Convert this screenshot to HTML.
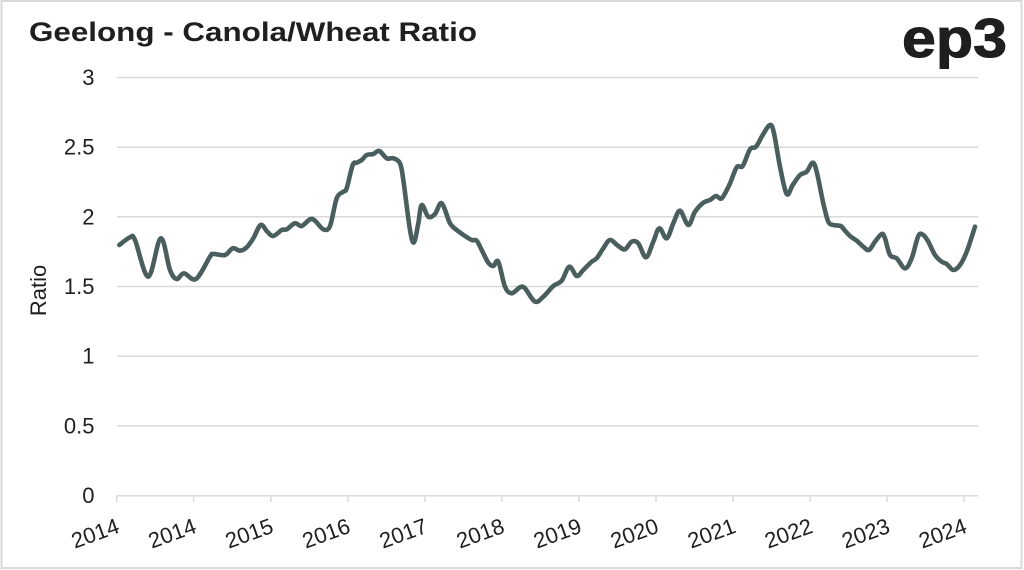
<!DOCTYPE html>
<html>
<head>
<meta charset="utf-8">
<style>
  html,body{margin:0;padding:0;background:#fff;}
  body{width:1024px;height:570px;overflow:hidden;}
  svg{display:block;}
  text{font-family:"Liberation Sans", Arial, sans-serif;fill:#1f1f1f;}
</style>
</head>
<body>
<svg width="1024" height="570" viewBox="0 0 1024 570" xmlns="http://www.w3.org/2000/svg">
  <rect x="0" y="0" width="1024" height="570" fill="#fff"/>
  <rect x="1.5" y="1" width="1020" height="567" fill="none" stroke="#d9d9d9" stroke-width="2"/>

  <!-- Title -->
  <text x="29" y="41" font-size="27" font-weight="bold" textLength="448" lengthAdjust="spacingAndGlyphs" fill="#111">Geelong - Canola/Wheat Ratio</text>

  <!-- Logo -->
  <text x="902" y="57" font-size="55" font-weight="bold" textLength="105" lengthAdjust="spacingAndGlyphs" fill="#1e1e1e" stroke="#1e1e1e" stroke-width="1">ep3</text>

  <!-- Gridlines -->
  <g stroke="#d9d9d9" stroke-width="1.5">
    <line x1="117" y1="77.5" x2="978" y2="77.5"/>
    <line x1="117" y1="147.2" x2="978" y2="147.2"/>
    <line x1="117" y1="216.8" x2="978" y2="216.8"/>
    <line x1="117" y1="286.5" x2="978" y2="286.5"/>
    <line x1="117" y1="356.2" x2="978" y2="356.2"/>
    <line x1="117" y1="425.9" x2="978" y2="425.9"/>
    <line x1="117" y1="495.7" x2="978" y2="495.7"/>
  </g>
  <!-- Ticks -->
  <g stroke="#d9d9d9" stroke-width="1.5">
    <line x1="116.7" y1="495.7" x2="116.7" y2="502"/>
    <line x1="193.7" y1="495.7" x2="193.7" y2="502"/>
    <line x1="270.8" y1="495.7" x2="270.8" y2="502"/>
    <line x1="347.8" y1="495.7" x2="347.8" y2="502"/>
    <line x1="424.9" y1="495.7" x2="424.9" y2="502"/>
    <line x1="501.9" y1="495.7" x2="501.9" y2="502"/>
    <line x1="579.0" y1="495.7" x2="579.0" y2="502"/>
    <line x1="656.0" y1="495.7" x2="656.0" y2="502"/>
    <line x1="733.1" y1="495.7" x2="733.1" y2="502"/>
    <line x1="810.1" y1="495.7" x2="810.1" y2="502"/>
    <line x1="887.2" y1="495.7" x2="887.2" y2="502"/>
    <line x1="964.2" y1="495.7" x2="964.2" y2="502"/>
  </g>

  <!-- Y labels -->
  <g font-size="22" text-anchor="end">
    <text x="94.5" y="85">3</text>
    <text x="94.5" y="154.7">2.5</text>
    <text x="94.5" y="224.3">2</text>
    <text x="94.5" y="294">1.5</text>
    <text x="94.5" y="363.7">1</text>
    <text x="94.5" y="433.4">0.5</text>
    <text x="94.5" y="503.2">0</text>
  </g>
  <text transform="translate(46,290.5) rotate(-90)" font-size="22" text-anchor="middle">Ratio</text>

  <!-- X labels -->
  <g font-size="22" text-anchor="end">
    <text transform="translate(120.7,532) rotate(-20)">2014</text>
    <text transform="translate(197.7,532) rotate(-20)">2014</text>
    <text transform="translate(274.8,532) rotate(-20)">2015</text>
    <text transform="translate(351.8,532) rotate(-20)">2016</text>
    <text transform="translate(428.9,532) rotate(-20)">2017</text>
    <text transform="translate(505.9,532) rotate(-20)">2018</text>
    <text transform="translate(583.0,532) rotate(-20)">2019</text>
    <text transform="translate(660.0,532) rotate(-20)">2020</text>
    <text transform="translate(737.1,532) rotate(-20)">2021</text>
    <text transform="translate(814.1,532) rotate(-20)">2022</text>
    <text transform="translate(891.2,532) rotate(-20)">2023</text>
    <text transform="translate(968.2,532) rotate(-20)">2024</text>
  </g>

  <!-- Series -->
  <path id="series" fill="none" stroke="#4a5e5e" stroke-width="4.6" stroke-linejoin="round" stroke-linecap="round"
    d="M119.3,245 L130,237.3 135,240 148.3,276.7 160.7,238.3 170,270 176.7,279 184,273.3 196,279 210,256.7 213.3,254 225,255 232.7,248.3 240,250.7 246.7,247.3 253.3,238.3 260.7,225 267.3,231.7 273.3,236 281.7,230 286.7,229.3 295,223.3 301.7,226 310,219.3 315,220.7 323.3,229.3 330,226 336.7,198.3 343.3,191.7 346.7,188.3 352.7,165 356.7,162.7 361.7,160 366.7,155 373.3,154 379.3,151 386.7,158.3 393.3,158.3 400,163.3 403.3,180 410,230 414,242.3 418.3,223.3 421.7,205 428.3,216.7 435,214 441.7,203.3 450,223.3 456.7,230 465,236 471.7,240 476.7,240.7 481.7,250 488.3,262.7 493.3,266 498.3,261.7 505,286.7 511.7,293.3 520,287.3 525,288.3 535,301.7 543.3,296.7 553.3,286 561.7,280.7 569.3,266.7 576.7,276 583.3,270 591.7,261.7 596.7,258.3 603.3,248.3 610,240 618.3,246 625,249.3 631.7,241.7 638.3,243.3 646,257.3 653.3,241.7 659.3,228.3 666.7,238.3 673.3,223.3 680,210.7 688.3,225 695,211.7 703.3,202.7 710,200 716,196 721.7,198.3 729.3,185 736.7,167.3 742.7,166 750,149.3 756,146.7 762.7,135 770,125 774,133.3 780,166.7 786.7,194 792.7,185 800,175 806.7,171.7 812.7,162.7 816.7,171.7 823.3,203.3 828.3,221.7 833.3,225 840.7,226 845,230.7 850,236 856.7,240.7 863.3,246.7 869,250 875,241.7 881.7,234 885,238.3 890,255 896.7,258.3 905,268.3 911.7,258.3 918.3,236 923.3,235 928.3,241.7 935,255 941.7,261.7 946.7,264 953.3,270 960,265 966.7,251.7 975,226.7"/>
</svg>
<script>
(function(){
  var p=document.getElementById('series');
  var d=p.getAttribute('d').replace(/[ML]/g,' ').trim().split(/\s+/);
  var pts=d.map(function(s){var a=s.split(',');return [parseFloat(a[0]),parseFloat(a[1])];});
  var out='M'+pts[0][0]+','+pts[0][1];
  for(var i=0;i<pts.length-1;i++){
    var p0=pts[i-1]||pts[i],p1=pts[i],p2=pts[i+1],p3=pts[i+2]||p2;
    var c1x=p1[0]+(p2[0]-p0[0])/6, c1y=p1[1]+(p2[1]-p0[1])/6;
    var c2x=p2[0]-(p3[0]-p1[0])/6, c2y=p2[1]-(p3[1]-p1[1])/6;
    out+=' C'+c1x.toFixed(2)+','+c1y.toFixed(2)+' '+c2x.toFixed(2)+','+c2y.toFixed(2)+' '+p2[0]+','+p2[1];
  }
  p.setAttribute('d',out);
})();
</script>
</body>
</html>
